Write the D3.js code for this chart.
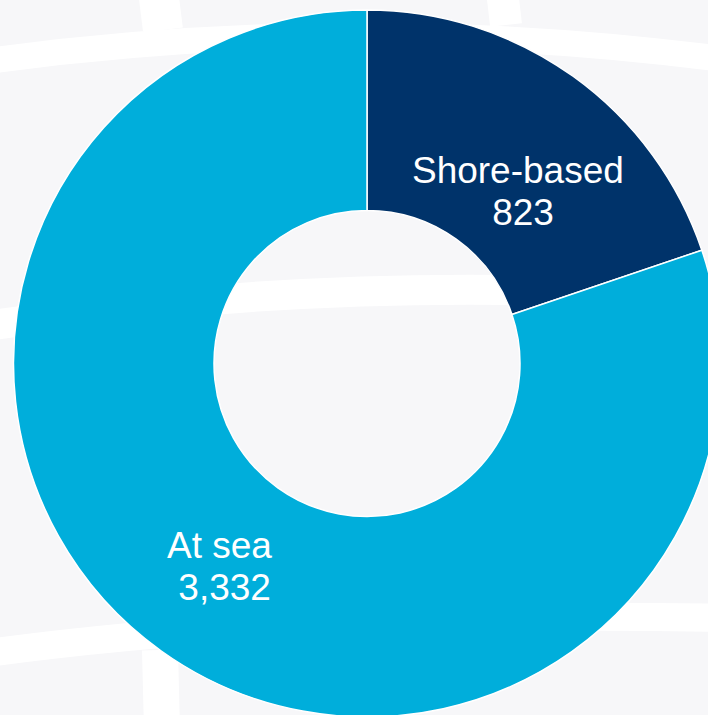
<!DOCTYPE html>
<html>
<head>
<meta charset="utf-8">
<script src="https://cdn.jsdelivr.net/npm/d3@7/dist/d3.min.js"></script>
<style>
  html, body { margin: 0; padding: 0; background: #f7f7f9; }
  svg { display: block; }
  text { font-family: "Liberation Sans", Arial, sans-serif; }
</style>
</head>
<body>
<svg id="chart" width="708" height="715"></svg>
<script>
// ---- data ----
const categories = ["Shore-based", "At sea"];
const values = [823, 3332];
const colors = ["#00336a", "#00aedb"];

// ---- layout ----
const W = 708, H = 715;
const cx = 367, cy = 363.5;
const outerR = 353.5, innerR = 153;
const labelR = 240;
const labelNudge = [[11, 22], [-7.6, 6.5]];

const svg = d3.select("#chart");

// decorative background (light grey with white map-grid bands)
svg.append("rect").attr("width", W).attr("height", H).attr("fill", "#f7f7f9");
const bg = svg.append("g").attr("fill", "none").attr("stroke", "#ffffff");
const bands = [
  {d: "M-20,62 Q350,10 730,60", w: 26},
  {d: "M-20,327 Q350,270 730,300", w: 30},
  {d: "M-20,654 Q300,610 730,618", w: 28},
  {d: "M158,-10 L163,30", w: 40},
  {d: "M502,-10 L506,25", w: 32},
  {d: "M160,650 L162,730", w: 36}
];
bands.forEach(b => bg.append("path").attr("d", b.d).attr("stroke-width", b.w));

// ---- donut ----
const pie = d3.pie().sort(null).value(d => d.value);
const arcs = pie(categories.map((c, i) => ({name: c, value: values[i], color: colors[i]})));
const arc = d3.arc().innerRadius(innerR).outerRadius(outerR);
const labelArc = d3.arc().innerRadius(labelR).outerRadius(labelR);

const g = svg.append("g").attr("transform", `translate(${cx},${cy})`);
g.selectAll("path.slice")
  .data(arcs)
  .join("path")
  .attr("class", "slice")
  .attr("d", arc)
  .attr("fill", d => d.data.color)
  .attr("stroke", "#ffffff")
  .attr("stroke-width", 1.5);

const fmt = d3.format(",");
const labels = g.selectAll("text.lbl")
  .data(arcs)
  .join("text")
  .attr("class", "lbl")
  .attr("fill", "#ffffff")
  .attr("font-size", 37)
  .attr("text-anchor", "middle")
  .style("white-space", "pre")
  .attr("transform", (d, i) => {
    const [x, y] = labelArc.centroid(d);
    return `translate(${x + labelNudge[i][0]},${y + labelNudge[i][1]})`;
  });
labels.append("tspan").attr("x", 0).attr("y", -7.5).text(d => d.data.name);
labels.append("tspan").attr("x", 0).attr("y", 34.5).text(d => " " + fmt(d.data.value));
</script>
</body>
</html>
